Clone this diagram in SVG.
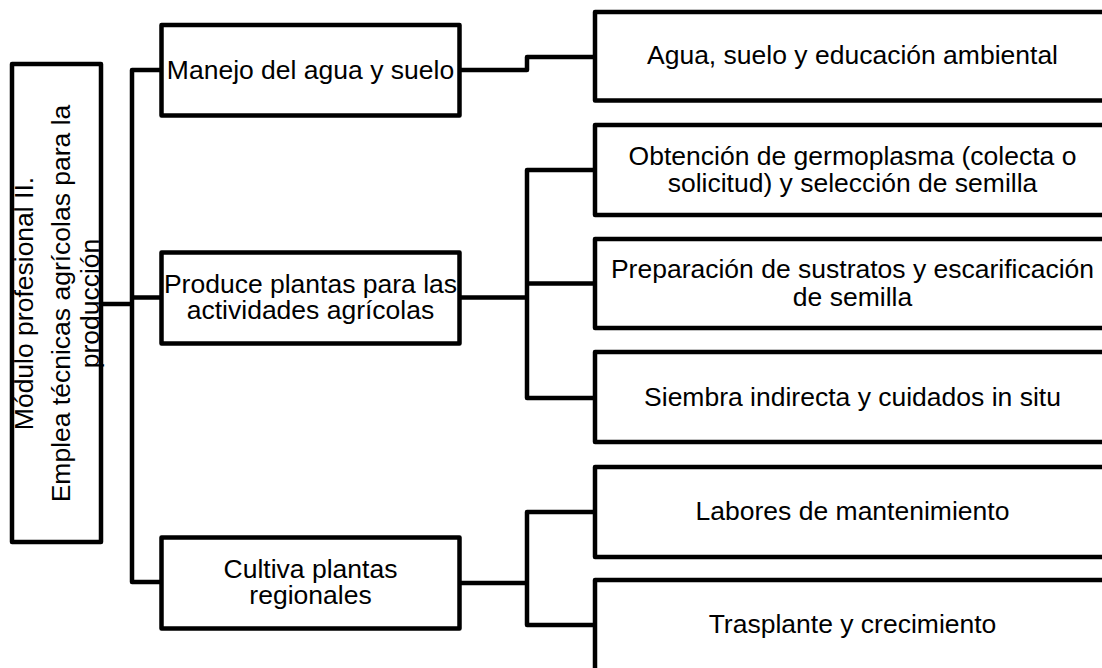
<svg xmlns="http://www.w3.org/2000/svg" width="1102" height="668" viewBox="0 0 1102 668">
<style>
.box{fill:#fff;stroke:#000;stroke-width:4.5;stroke-linejoin:round}
.con{fill:none;stroke:#000;stroke-width:4.5;stroke-linejoin:round}
text{font-family:"Liberation Sans",Arial,sans-serif;font-size:26.5px;fill:#000;text-anchor:middle}
</style>
<rect width="1102" height="668" fill="#fff"/>
<g id="connectors">
<path class="con" d="M101,304 H132 M161.5,70 H132 V582 H161.5 M132,297.5 H161.5"/>
<path class="con" d="M459.5,70 H527 V57 H595"/>
<path class="con" d="M459.5,297.5 H527 M595,170 H527 V398 H595 M527,283.5 H595"/>
<path class="con" d="M459.5,583 H527 M595,512 H527 V625 H595"/>
</g>
<g id="root">
<rect class="box" x="12" y="64" width="89" height="478"/>
<text transform="translate(33,303.5) rotate(-90)">Módulo profesional II.</text>
<text transform="translate(70,303.5) rotate(-90)">Emplea técnicas agrícolas para la</text>
<text transform="translate(99,303.5) rotate(-90)">producción</text>
</g>
<g id="manejo">
<rect class="box" x="161.5" y="25" width="298" height="90.5"/>
<text x="310.5" y="79">Manejo del agua y suelo</text>
</g>
<g id="produce">
<rect class="box" x="161.5" y="252.5" width="298" height="91"/>
<text x="310.5" y="292.5">Produce plantas para las</text>
<text x="310.5" y="319">actividades agrícolas</text>
</g>
<g id="cultiva">
<rect class="box" x="161.5" y="537.5" width="298" height="91"/>
<text x="310.5" y="578">Cultiva plantas</text>
<text x="310.5" y="603.5">regionales</text>
</g>
<g id="agua">
<rect class="box" x="595" y="12" width="515" height="88.5"/>
<text x="852.5" y="64">Agua, suelo y educación ambiental</text>
</g>
<g id="obtencion">
<rect class="box" x="595" y="125" width="515" height="90"/>
<text x="852.5" y="165">Obtención de germoplasma (colecta o</text>
<text x="852.5" y="192">solicitud) y selección de semilla</text>
</g>
<g id="preparacion">
<rect class="box" x="595" y="239" width="515" height="89"/>
<text x="852.5" y="278">Preparación de sustratos y escarificación</text>
<text x="852.5" y="305.5">de semilla</text>
</g>
<g id="siembra">
<rect class="box" x="595" y="352" width="515" height="90"/>
<text x="852.5" y="405.5">Siembra indirecta y cuidados in situ</text>
</g>
<g id="labores">
<rect class="box" x="595" y="467" width="515" height="90"/>
<text x="852.5" y="520">Labores de mantenimiento</text>
</g>
<g id="trasplante">
<rect class="box" x="595" y="580" width="515" height="92"/>
<text x="852.5" y="633">Trasplante y crecimiento</text>
</g>
</svg>
